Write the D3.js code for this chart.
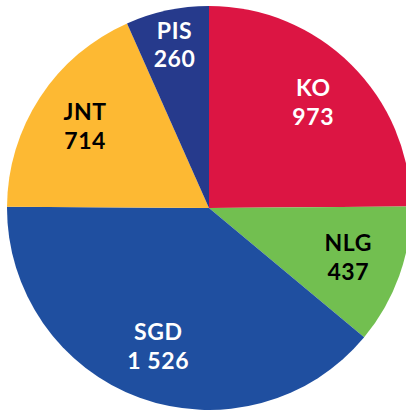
<!DOCTYPE html>
<html>
<head>
<meta charset="utf-8">
<script src="https://d3js.org/d3.v7.min.js"></script>
<style>
  body { margin: 0; background: #fff; }
  text { font-family: Lato, "Open Sans", sans-serif; font-weight: 700; letter-spacing: 0.6px; }
</style>
</head>
<body>
<svg id="chart" width="406" height="410"></svg>
<script>
// party seats, clockwise from 12 o'clock
var parties = ["KO", "NLG", "SGD", "JNT", "PIS"];
var votes = [973, 437, 1526, 714, 260];
var colors = ["#dc1543", "#72bf50", "#1f4fa0", "#fdb933", "#263a8c"];
var textColors = ["#fff", "#000", "#fff", "#000", "#fff"];

var cx = 209, cy = 208, radius = 202;

var svg = d3.select("#chart");
var g = svg.append("g").attr("transform", "translate(" + cx + "," + cy + ")");

var data = parties.map(function (p, i) {
  return { name: p, value: votes[i], color: colors[i], text: textColors[i] };
});

var pie = d3.pie().sort(null).value(function (d) { return d.value; });
var arc = d3.arc().innerRadius(0).outerRadius(radius);

// narrow slices get their label pushed further out
function labelPos(d) {
  var r = (d.endAngle - d.startAngle) < 0.5 ? 166 : 148;
  return d3.arc().innerRadius(r).outerRadius(r).centroid(d);
}

var fmt = function (v) { return d3.format(",")(v).replace(/,/g, " "); };

var slices = g.selectAll(".slice").data(pie(data)).enter().append("g").attr("class", "slice");

slices.append("path")
  .attr("d", arc)
  .attr("fill", function (d) { return d.data.color; });

var labels = slices.append("text")
  .attr("transform", function (d) { return "translate(" + labelPos(d) + ")"; })
  .attr("text-anchor", "middle")
  .attr("fill", function (d) { return d.data.text; })
  .style("font-size", "23px");

labels.append("tspan")
  .attr("x", 0)
  .attr("dy", "-0.3em")
  .text(function (d) { return d.data.name; });

labels.append("tspan")
  .attr("x", 0)
  .attr("dy", "1.25em")
  .text(function (d) { return fmt(d.data.value); });
</script>
</body>
</html>
